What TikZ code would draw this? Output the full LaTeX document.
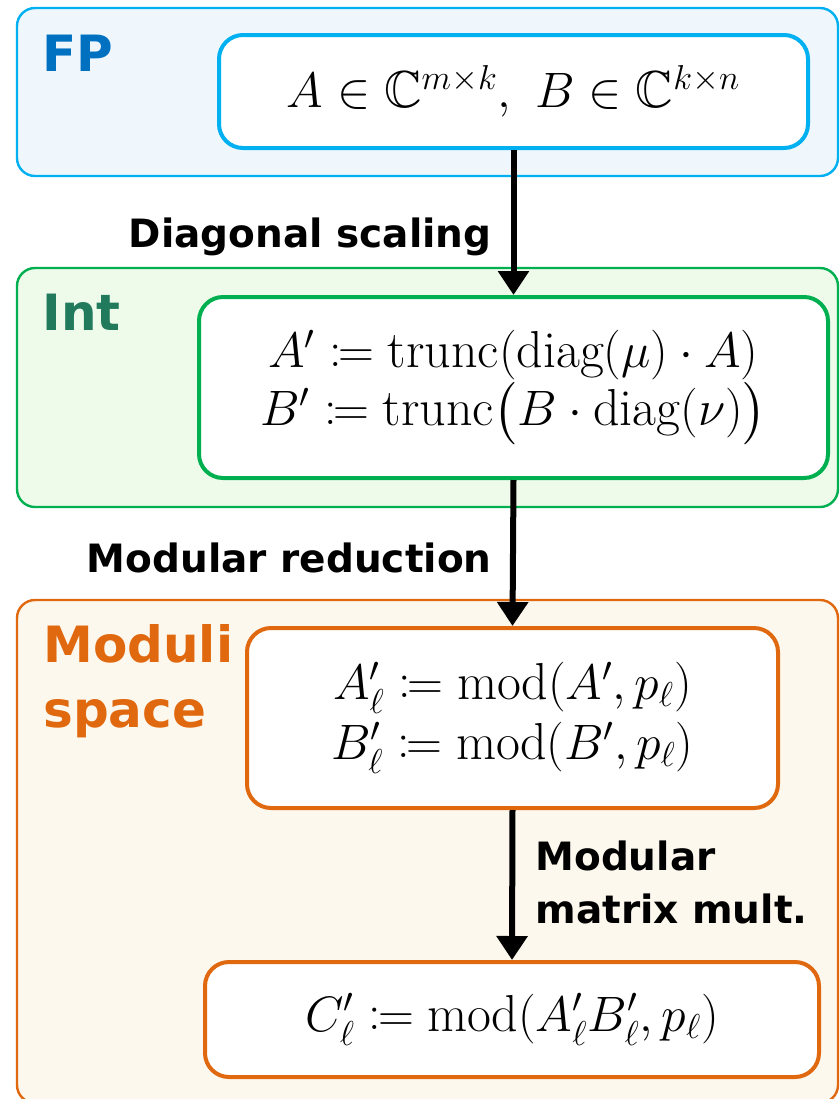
\documentclass[tikz,border=0pt]{standalone}
\usepackage{fontspec}
\usepackage{amssymb,mathtools}
\newfontfamily\labelfont{DejaVu Sans}
\usetikzlibrary{arrows.meta}
\definecolor{fpstroke}{HTML}{00B0F0}
\definecolor{fpfill}{HTML}{EFF7FD}
\definecolor{fptext}{HTML}{0070C0}
\definecolor{intstroke}{HTML}{00B050}
\definecolor{intfill}{HTML}{EEFBEB}
\definecolor{inttext}{HTML}{217A5B}
\definecolor{modstroke}{HTML}{E0680E}
\definecolor{modfill}{HTML}{FDF8EE}
\definecolor{modtext}{HTML}{E0680E}
\begin{document}
\begin{tikzpicture}[x=0.5pt,y=-0.5pt,
  outerbox/.style={draw, rounded corners=9pt, line width=1.2pt, inner sep=0pt},
  innerbox/.style={draw, rounded corners=12pt, line width=2pt, fill=white, inner sep=0pt, align=center, font=\fontsize{26}{29}\selectfont},
  flow/.style={line width=3pt, -{Triangle[length=12pt,width=15pt]}},
  arrlabel/.style={font=\labelfont\bfseries\fontsize{19.5}{26.5}\selectfont, inner sep=0pt, align=left},
  grouplabel/.style={font=\labelfont\bfseries\fontsize{25}{32.5}\selectfont, inner sep=0pt, align=left}]
\useasboundingbox (0,0) rectangle (840,1099);
\begin{scope}
\clip (0,0) rectangle (840,1099);
% outer group boxes
\node[outerbox, draw=fpstroke, fill=fpfill, minimum width=410.5pt, minimum height=84pt] (fpgroup) at (427.5,92) {};
\node[outerbox, draw=intstroke, fill=intfill, minimum width=410.5pt, minimum height=119.5pt] (intgroup) at (427.5,387.5) {};
\node[outerbox, draw=modstroke, fill=modfill, minimum width=410.5pt, minimum height=251.5pt] (modgroup) at (427.5,851.5) {};
\end{scope}
% group labels
\node[grouplabel, text=fptext, anchor=base west] (fplabel) at (42,71) {FP};
\node[grouplabel, text=inttext, anchor=base west] (intlabel) at (42,330) {Int};
\node[grouplabel, text=modtext, anchor=base west] (modlabel) at (43,727) {Moduli\\space};
% inner boxes
\node[innerbox, draw=fpstroke, minimum width=294.5pt, minimum height=56.5pt] (fpbox) at (513.5,91.5)
  {$A \in \mathbb{C}^{m\times k},\ B \in \mathbb{C}^{k\times n}$};
\node[innerbox, draw=intstroke, minimum width=314.5pt, minimum height=90.5pt] (intbox) at (513.5,387.5)
  {$A' \coloneqq \mathrm{trunc}(\mathrm{diag}(\mu)\cdot A)$\\
   $B' \coloneqq \mathrm{trunc}\bigl(B\cdot \mathrm{diag}(\nu)\bigr)$};
\node[innerbox, draw=modstroke, minimum width=265.5pt, minimum height=90pt, font=\fontsize{26}{30}\selectfont] (modbox) at (512.5,718)
  {$A'_\ell \coloneqq \mathrm{mod}(A', p_\ell)$\\
   $B'_\ell \coloneqq \mathrm{mod}(B', p_\ell)$};
\node[innerbox, draw=modstroke, minimum width=307pt, minimum height=57.5pt] (resbox) at (512,1019.5)
  {$C'_\ell \coloneqq \mathrm{mod}(A'_\ell B'_\ell, p_\ell)$};
% connectors
\draw[flow] (fpbox.south) -- (intbox.north);
\draw[flow] (intbox.south) -- (modbox.north);
\draw[flow] (modbox.south) -- (resbox.north);
% connector labels
\node[arrlabel, anchor=east] (lab1) at (492,237) {Diagonal scaling};
\node[arrlabel, anchor=east] (lab2) at (492,558) {Modular reduction};
\node[arrlabel, anchor=base west] (lab3) at (535,923) {Modular\\matrix mult.};
\end{tikzpicture}
\end{document}
